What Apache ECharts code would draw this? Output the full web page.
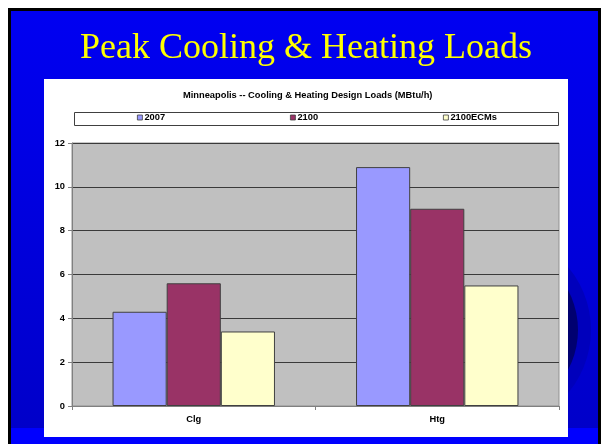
<!DOCTYPE html>
<html>
<head>
<meta charset="utf-8">
<script src="https://cdn.jsdelivr.net/npm/echarts@6/dist/echarts.min.js"></script>
<style>
  html, body { margin: 0; padding: 0; background: #ffffff; }
  #chart { width: 602px; height: 444px; }
</style>
</head>
<body>
<div id="chart"></div>
<script>
// Design loads per load type (MBtu/h)
const categories = ['Clg', 'Htg'];
const seriesNames = ['2007', '2100', '2100ECMs'];
const values2007 = [4.3, 10.9];
const values2100 = [5.6, 9.0];
const values2100ECMs = [3.4, 5.5];
const yTicks = { min: 0, max: 12, step: 2 };

const slideTitle = 'Peak Cooling & Heating Loads';
const chartTitle = 'Minneapolis -- Cooling & Heating Design Loads (MBtu/h)';

const barColors = ['#9999FF', '#993366', '#FFFFCC'];
const sans = '"Liberation Sans", Arial, sans-serif';
const serif = '"Liberation Serif", "Times New Roman", serif';
const labelFont = { fontFamily: sans, fontSize: 9.3, fontWeight: 'bold', color: '#000' };

const chart = echarts.init(document.getElementById('chart'), null, { renderer: 'canvas' });

const seriesData = [values2007, values2100, values2100ECMs];
const legendLefts = [137, 290, 443];

const option = {
  animation: false,
  backgroundColor: '#ffffff',
  graphic: {
    elements: [
      // slide background with black frame
      {
        type: 'rect', z: 0, z2: 0,
        shape: { x: 9.5, y: 9.5, width: 590, height: 450 },
        style: {
          fill: new echarts.graphic.LinearGradient(0, 0, 0, 1, [
            { offset: 0, color: '#0000F2' },
            { offset: 1, color: '#0000C6' }
          ]),
          stroke: '#000', lineWidth: 3
        }
      },
      // lighter strip along the bottom of the slide
      {
        type: 'rect', z: 0, z2: 1,
        shape: { x: 11, y: 428, width: 587, height: 20 },
        style: { fill: '#0000FF' }
      },
      // decorative rings at the right
      {
        type: 'circle', z: 0, z2: 2,
        shape: { cx: 493, cy: 330, r: 98 },
        style: { fill: '#0000BC' }
      },
      {
        type: 'circle', z: 0, z2: 3,
        shape: { cx: 493, cy: 330, r: 85 },
        style: { fill: '#000070' }
      },
      // white chart panel
      {
        type: 'rect', z: 0, z2: 4,
        shape: { x: 44, y: 79, width: 524, height: 358 },
        style: { fill: '#ffffff' }
      },
      // legend frame
      {
        type: 'rect', z: 0, z2: 5,
        shape: { x: 74.5, y: 112.5, width: 484, height: 13 },
        style: { fill: '#ffffff', stroke: '#404040', lineWidth: 1 }
      },
      // slide heading
      {
        type: 'text', z: 0, z2: 6,
        x: 306, y: 49,
        style: {
          text: slideTitle,
          fill: '#FFFF00',
          font: '36px ' + serif,
          textAlign: 'center',
          textVerticalAlign: 'middle'
        }
      }
    ]
  },
  title: {
    text: chartTitle,
    left: 183,
    top: 91,
    padding: 0,
    z: 10,
    textStyle: labelFont
  },
  legend: seriesNames.map((name, i) => ({
    data: [name],
    left: legendLefts[i],
    top: 113,
    padding: 0,
    z: 10,
    itemWidth: 5,
    itemHeight: 5,
    icon: 'rect',
    itemStyle: { borderColor: '#404040', borderWidth: 0.8 },
    selectedMode: false,
    textStyle: Object.assign({ padding: [0, 0, 0, -3] }, labelFont)
  })),
  grid: {
    left: 72,
    right: 43,
    top: 143,
    bottom: 38,
    show: true,
    z: 5,
    backgroundColor: '#C0C0C0',
    borderColor: '#909090',
    borderWidth: 1
  },
  xAxis: {
    type: 'category',
    data: categories,
    z: 7,
    axisLine: { lineStyle: { color: '#808080', width: 1 } },
    axisTick: { show: true, length: 4, lineStyle: { color: '#808080' } },
    axisLabel: Object.assign({ margin: 9 }, labelFont)
  },
  yAxis: {
    type: 'value',
    min: yTicks.min,
    max: yTicks.max,
    interval: yTicks.step,
    z: 6,
    axisLine: { show: true, lineStyle: { color: '#808080', width: 1 } },
    axisTick: { show: true, length: 4, lineStyle: { color: '#808080' } },
    axisLabel: Object.assign({ margin: 7 }, labelFont),
    splitLine: { show: true, lineStyle: { color: '#3a3a3a', width: 1 } }
  },
  series: seriesNames.map((name, i) => ({
    name: name,
    type: 'bar',
    z: 8,
    data: seriesData[i],
    barGap: '0%',
    barCategoryGap: '33.3%',
    itemStyle: { color: barColors[i], borderColor: '#404040', borderWidth: 1 }
  }))
};

chart.setOption(option);
</script>
</body>
</html>
